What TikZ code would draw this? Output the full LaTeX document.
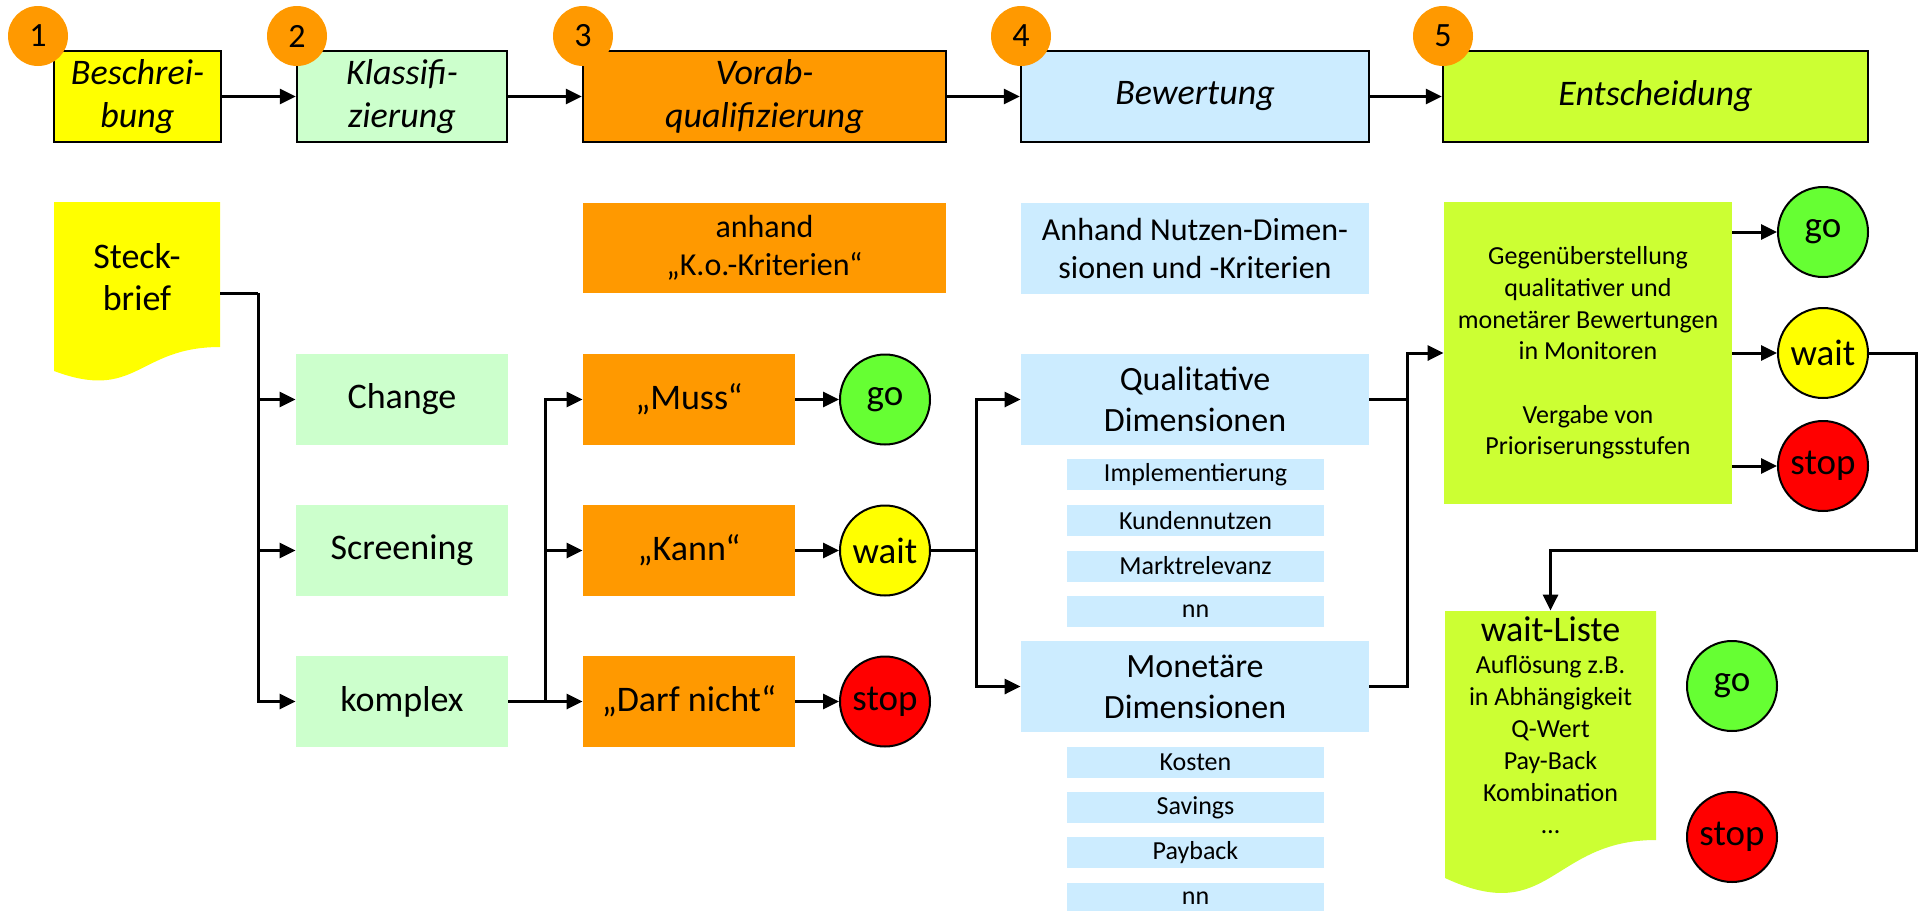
\documentclass[tikz,border=0pt]{standalone}
\usepackage{fontspec}
\setmainfont{Carlito}
\usetikzlibrary{arrows.meta}

\definecolor{cYellow}{HTML}{FFFF00}
\definecolor{cMint}{HTML}{CCFFCC}
\definecolor{cOrange}{HTML}{FF9900}
\definecolor{cSky}{HTML}{CCECFF}
\definecolor{cLime}{HTML}{CCFF33}
\definecolor{cGo}{HTML}{66FF33}
\definecolor{cStop}{HTML}{FF0000}

\begin{document}
\begin{tikzpicture}[x=0.5pt,y=-0.5pt,
  phase/.style={draw=black, line width=1.2pt, minimum height=45.5pt, inner sep=0pt,
    align=center, font=\fontsize{18}{21.5}\selectfont\itshape},
  num/.style={circle, fill=cOrange, minimum size=30pt, inner sep=0pt,
    font=\fontsize{17}{20}\selectfont},
  box/.style={minimum height=45.5pt, inner sep=0pt, align=center,
    font=\fontsize{18}{21}\selectfont},
  sub/.style={fill=cSky, minimum width=128.5pt, minimum height=15.5pt, inner sep=0pt,
    font=\fontsize{13}{15}\selectfont},
  lamp/.style={circle, draw=black, line width=1pt, minimum size=45pt, inner sep=0pt,
    font=\fontsize{18.5}{20}\selectfont},
  conn/.style={line width=1.5pt},
  arr/.style={conn, -{Triangle[length=8pt,width=7.5pt]}},
]
\useasboundingbox (0,0) rectangle (1924,911);
\clip (0,0) rectangle (1924,911);

% ---- phase header ----
\node[phase, fill=cYellow, minimum width=83.5pt]  (b1) at (137.5,96.5) {Beschrei-\\bung};
\node[phase, fill=cMint,   minimum width=105pt]   (b2) at (402,96.5)   {Klassifi-\\zierung};
\node[phase, fill=cOrange, minimum width=181.5pt] (b3) at (764.5,96.5) {Vorab-\\qualifizierung};
\node[phase, fill=cSky,    minimum width=174pt]   (b4) at (1195,96.5)  {Bewertung};
\node[phase, fill=cLime,   minimum width=212.5pt] (b5) at (1655.5,96.5) {Entscheidung};

\node[num] (n1) at (38,36)   {1};
\node[num] (n2) at (297,36)  {2};
\node[num] (n3) at (583,36)  {3};
\node[num] (n4) at (1021,36) {4};
\node[num] (n5) at (1443,36) {5};

\draw[arr] (b1.east) -- (b2.west);
\draw[arr] (b2.east) -- (b3.west);
\draw[arr] (b3.east) -- (b4.west);
\draw[arr] (b4.east) -- (b5.west);

% ---- description document ----
\fill[cYellow] (54,202) -- (220,202) -- (220,347)
  .. controls (137,347) and (137,402) .. (54,371) -- cycle;
\node[align=center, inner sep=0pt, font=\fontsize{18}{21}\selectfont] (steck) at (137,277) {Steck-\\brief};
\coordinate (steckout) at (220,293);
\coordinate (bus1) at (258,293);

% ---- classification ----
\node[box, fill=cMint, minimum width=106pt] (change)  at (402,399.5) {Change};
\node[box, fill=cMint, minimum width=106pt] (screen)  at (402,550.5) {Screening};
\node[box, fill=cMint, minimum width=106pt] (komplex) at (402,701.5) {komplex};

\draw[conn] (steckout) -- (bus1);
\draw[arr] (bus1) |- (change.west);
\draw[arr] (bus1) |- (screen.west);
\draw[arr] (bus1) |- (komplex.west);

% ---- pre-qualification ----
\node[box, fill=cOrange, minimum width=181.5pt, minimum height=45pt,
  font=\fontsize{16}{19}\selectfont] (ko) at (764.5,248) {anhand\\„K.o.-Kriterien“};
\node[box, fill=cOrange, minimum width=106pt] (muss) at (689,399.5) {„Muss“};
\node[box, fill=cOrange, minimum width=106pt] (kann) at (689,550.5) {„Kann“};
\node[box, fill=cOrange, minimum width=106pt] (darf) at (689,701.5) {„Darf nicht“};

\coordinate (bus2) at (545,701.5);
\draw[conn] (komplex.east) -- (bus2);
\draw[arr] (bus2) |- (muss.west);
\draw[arr] (bus2) |- (kann.west);
\draw[arr] (bus2) -- (darf.west);

\node[lamp, fill=cGo]     (go1)   at (885,399.5) {go};
\node[lamp, fill=cYellow] (wait1) at (885,550.5) {wait};
\node[lamp, fill=cStop]   (stop1) at (885,701.5) {stop};

\draw[arr] (muss.east) -- (go1.west);
\draw[arr] (kann.east) -- (wait1.west);
\draw[arr] (darf.east) -- (stop1.west);

% ---- assessment ----
\node[box, fill=cSky, minimum width=174pt, minimum height=45.5pt,
  font=\fontsize{16}{19}\selectfont] (nutz) at (1195,248.5) {Anhand Nutzen-Dimen-\\sionen und -Kriterien};
\node[box, fill=cSky, minimum width=174pt, font=\fontsize{17}{20.5}\selectfont] (qual) at (1195,399.5) {Qualitative\\Dimensionen};
\node[box, fill=cSky, minimum width=174pt, font=\fontsize{17}{20.5}\selectfont] (mon)  at (1195,686.5) {Monetäre\\Dimensionen};

\node[sub] (q1) at (1195.5,474.5) {Implementierung};
\node[sub] (q2) at (1195.5,520.5) {Kundennutzen};
\node[sub] (q3) at (1195.5,566)   {Marktrelevanz};
\node[sub] (q4) at (1195.5,611.5) {nn};
\node[sub] (m1) at (1195.5,762.5) {Kosten};
\node[sub] (m2) at (1195.5,807.5) {Savings};
\node[sub] (m3) at (1195.5,852.5) {Payback};
\node[sub] (m4) at (1195.5,898)   {nn};

\coordinate (bus3) at (976,550.5);
\draw[conn] (wait1.east) -- (bus3);
\draw[arr] (bus3) |- (qual.west);
\draw[arr] (bus3) |- (mon.west);

% ---- decision ----
\node[fill=cLime, minimum width=144pt, minimum height=151pt, inner sep=0pt, align=center,
  font=\fontsize{13}{15.85}\selectfont] (eval) at (1588,353)
  {Gegenüberstellung\\qualitativer und\\monetärer Bewertungen\\in Monitoren\\[15.85pt]Vergabe von\\Prioriserungsstufen};

\coordinate (bus4) at (1407,353);
\draw[conn] (qual.east) -| (bus4);
\draw[arr] (mon.east) -| (bus4) -- (eval.west);

\node[lamp, fill=cGo]     (go2)   at (1823,232) {go};
\node[lamp, fill=cYellow] (wait2) at (1823,353) {wait};
\node[lamp, fill=cStop]   (stop2) at (1823,466) {stop};

\draw[arr] (eval.east |- go2)   -- (go2.west);
\draw[arr] (eval.east |- wait2) -- (wait2.west);
\draw[arr] (eval.east |- stop2) -- (stop2.west);

% ---- wait list document ----
\fill[cLime] (1445,611) -- (1656,611) -- (1656,840)
  .. controls (1550.5,840) and (1550.5,927) .. (1445,878) -- cycle;
\node[minimum width=105.5pt, minimum height=114.5pt, inner sep=0pt] (wl) at (1550.5,725.5) {};
\node[anchor=north, align=center, inner sep=0pt, font=\fontsize{13}{16}\selectfont] (wltext) at (1550.5,616)
  {{\fontsize{18}{17}\selectfont wait-Liste}\\Auflösung z.B.\\in Abhängigkeit\\Q-Wert\\Pay-Back\\Kombination\\…};

\coordinate (turn) at (1916,550);
\draw[arr] (wait2.east) -| (turn) -| (wl.north);

\node[lamp, fill=cGo]   (go3)   at (1732,686) {go};
\node[lamp, fill=cStop] (stop3) at (1732,837) {stop};

\end{tikzpicture}
\end{document}
